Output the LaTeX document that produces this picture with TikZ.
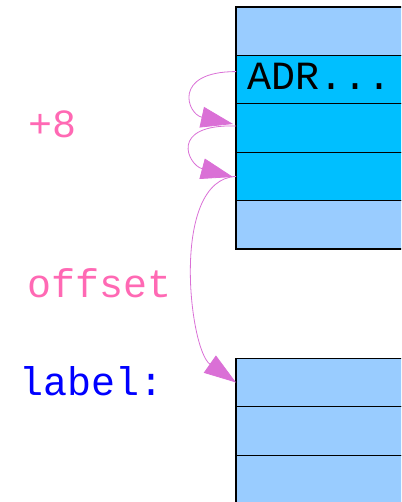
\documentclass[tikz,border=0pt]{standalone}
\usepackage{fontspec}
\setmonofont{Liberation Mono}
\usetikzlibrary{arrows.meta,calc}
\definecolor{cellpale}{RGB}{153,204,255}
\definecolor{cellsky}{RGB}{0,191,255}
\definecolor{jump}{RGB}{218,112,214}
\definecolor{note}{RGB}{255,105,180}
\definecolor{lbl}{RGB}{0,0,255}
\tikzset{
  cell/.style={draw=black, line width=1.2pt, minimum width=184pt, minimum height=48.4pt,
    inner sep=0pt, outer sep=0pt, anchor=center},
  pale/.style={cell, fill=cellpale},
  sky/.style={cell, fill=cellsky},
  mono/.style={font=\ttfamily\fontsize{40}{48}\selectfont, inner sep=0pt, anchor=base west},
  jumparrow/.style={draw=jump, line width=0.8pt,
    -{Triangle[length=32pt,width=21pt,fill=jump]}},
}
\begin{document}
\begin{tikzpicture}[x=1pt,y=-1pt]
\useasboundingbox (0,0) rectangle (401,502);
\clip (0,0) rectangle (401,502);
% memory block around the instruction
\node[pale] (t1) at (328,31.2)  {};
\node[sky]  (t2) at (328,79.6)  {};
\node[sky]  (t3) at (328,128.0) {};
\node[sky]  (t4) at (328,176.4) {};
\node[pale] (t5) at (328,224.8) {};
% target block
\node[pale] (b1) at (328,382.5) {};
\node[pale] (b2) at (328,430.9) {};
\node[pale] (b3) at (328,479.3) {};
% texts
\node[mono, text=black] (adr) at (247,90) {ADR...};
\node[mono, text=note] (plus) at (28,138) {+8};
\node[mono, text=note] (off) at (27.5,297) {offset};
\node[mono, text=lbl] (lab) at (19.5,395) {label:};
% jumps
\draw[jumparrow] ($(t2.west)+(0,-8)$) .. controls +(-64,0) and +(-46,-10) .. ($(t3.west)+(-3,-4)$);
\draw[jumparrow] ($(t3.west)+(0,-2)$) .. controls +(-68,-2) and +(-45,-12) .. ($(t4.west)+(-3,0.6)$);
\draw[jumparrow] (t4.west) .. controls +(-66,3) and +(-47,-33) .. (b1.west);
\end{tikzpicture}
\end{document}
